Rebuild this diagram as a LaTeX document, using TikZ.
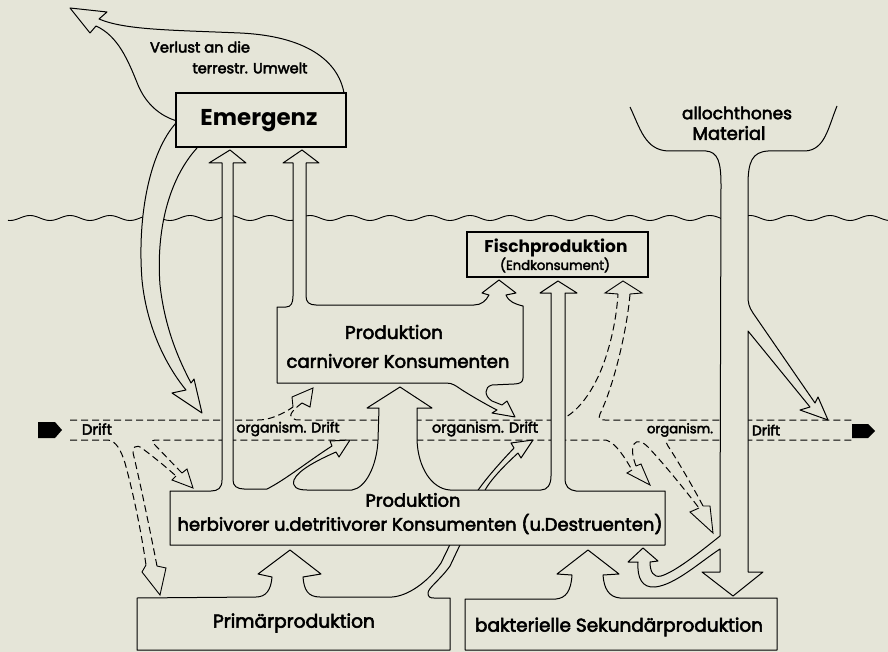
\documentclass[tikz,border=0pt]{standalone}
\usepackage{fontspec}
\setmainfont{Poppins}
\newfontfamily\medf{Poppins}[FakeBold=3]
\usepackage{graphicx}
\definecolor{bg}{RGB}{229,229,216}
\newcommand{\fitw}[2]{\resizebox{#1pt}{!}{#2}}
\begin{document}
\begin{tikzpicture}[x=1pt,y=-1pt,
  ln/.style={line width=1pt, line join=round},
  blk/.style={line width=1pt, line join=round, fill=bg},
  dl/.style={line width=1pt, dash pattern=on 7pt off 4pt},
  hd/.style={line width=0.9pt, line join=miter},
  tx/.style={inner sep=0pt, anchor=center, font=\medf},
  thickbox/.style={draw, line width=2.8pt, fill=bg, inner sep=0pt}]
\fill[bg] (0,0) rectangle (888,652);
\useasboundingbox (0,0) rectangle (888,652);
% water surface
\draw[line width=0.9pt] plot[domain=8:888,samples=400,smooth] (\x,{218+2.5*sin(9*\x)});
% drift lines (top)
\draw[dl] (70,420) -- (258,420) .. controls (270,420) and (283,414) .. (293,407);
\draw[hd] (293,407) -- (292,397) -- (313,388) -- (310,407) -- (302,403);
\draw[dl] (302,403) .. controls (294,409) and (288,415) .. (292,418) .. controls (294,420) and (297,420) .. (302,420) -- (560,420) .. controls (580,412) and (598,385) .. (608,350) .. controls (614,330) and (617,310) .. (618,294);
\draw[hd] (618,294) -- (605,293) -- (623,281) -- (642,293) -- (630,294);
\draw[dl] (630,294) .. controls (627,330) and (614,385) .. (600,414) .. controls (598,419) and (600,420) .. (605,420) -- (852,420);
% drift lines (bottom)
\draw[dl] (70,440) -- (108,440) .. controls (116,441) and (121,450) .. (125,463) .. controls (133,492) and (141,530) .. (146,565);
\draw[hd] (146,565) -- (142,572) -- (160,595) -- (166,568) -- (157,566);
\draw[dl] (157,566) .. controls (150,530) and (140,482) .. (134,457) .. controls (131,447) and (136,443) .. (143,449) .. controls (155,458) and (166,467) .. (176,476);
\draw[hd] (176,476) -- (172,480) -- (193,488) -- (187,469) -- (182,473);
\draw[dl] (182,473) .. controls (172,463) and (160,450) .. (153,443) .. controls (151,441) and (153,440) .. (157,440) -- (606,440) .. controls (616,443) and (625,458) .. (632,470);
\draw[hd] (632,470) -- (627,473) -- (650,485) -- (641,464) -- (636,466);
\draw[dl] (636,466) .. controls (633,458) and (631,449) .. (634,444) .. controls (637,440) and (642,441) .. (648,447) .. controls (665,465) and (685,490) .. (699,508);
\draw[hd] (699,508) -- (690,512) -- (713,533) -- (710,506) -- (703,506);
\draw[dl] (703,506) .. controls (692,485) and (676,458) .. (668,446) .. controls (665,441) and (666,440) .. (670,440) -- (852,440);
% block arrows
\fill (38,422) -- (55,422) -- (62,430) -- (55,438) -- (38,438) -- cycle;
\fill (852,424) -- (868,424) -- (875,431) -- (868,438) -- (852,438) -- cycle;
% curved arrow from Emergenz downwards
\filldraw[blk] (176,123) .. controls (150,152) and (137,215) .. (142,280) .. controls (147,330) and (168,368) .. (186,390) -- (172,393) -- (202,413) -- (194,379) -- (191,383) .. controls (180,362) and (165,330) .. (160,285) .. controls (156,232) and (168,180) .. (197,148) -- cycle;
% loss to terrestrial environment
\filldraw[blk] (344,93) .. controls (338,60) and (305,36) .. (240,33) .. controls (170,30) and (125,30) .. (99,19) -- (107,12) -- (70,8) -- (90,33) -- (96,26) .. controls (118,36) and (128,60) .. (138,85) .. controls (146,104) and (160,116) .. (177,121) -- cycle;
% Primaerproduktion group
\filldraw[blk] (137,598) -- (256,597) .. controls (266,597) and (271,590) .. (272,577) -- (258,574) -- (290,550) -- (321,574) -- (303,577) .. controls (304,590) and (308,597) .. (320,597) -- (392,597) .. controls (408,596) and (428,582) .. (441,563) -- (458,528) -- (468,528) -- (450,566) .. controls (440,580) and (428,588) .. (428,593) .. controls (428,597) and (430,598) .. (434,598) -- (450,598) -- (450,650) -- (137,650) -- cycle;
\filldraw[blk] (468,530) -- (472,500) .. controls (478,488) and (495,468) .. (514,448) -- (511,443) -- (533,440) -- (521,458) -- (518,453) .. controls (505,465) and (490,480) .. (484,492) -- (478,530) -- cycle;
% bakterielle Sekundaerproduktion group
\filldraw[blk] (465,599) -- (556,599) .. controls (566,598) and (571,591) .. (572,575) -- (557,574) -- (588,550) -- (619,574) -- (603,575) .. controls (604,589) and (609,597) .. (620,598) -- (777,598) -- (777,650) -- (465,650) -- cycle;
% allochthones Material
\fill[bg] (630,107) .. controls (640,128) and (645,150) .. (668,151) -- (706,151) .. controls (718,152) and (721,162) .. (721,185) -- (720,536) .. controls (700,552) and (675,572) .. (661,576) .. controls (653,578) and (650,571) .. (650,562) -- (658,561) -- (643,548) -- (628,562) -- (638,562) .. controls (637,578) and (642,588) .. (655,587) .. controls (675,585) and (700,562) .. (720,549) -- (720,572) -- (702,572) -- (733,596) -- (763,572) -- (748,572) -- (748,331) -- (810,407) -- (800,410) -- (828,420) -- (818,397) -- (815,403) -- (753,313) .. controls (749,307) and (748,303) .. (748,296) -- (748,185) .. controls (748,162) and (752,152) .. (768,151) -- (805,151) .. controls (825,150) and (828,128) .. (837,106) -- cycle;
\draw[ln] (630,107) .. controls (640,128) and (645,150) .. (668,151) -- (706,151) .. controls (718,152) and (721,162) .. (721,185) -- (720,536) .. controls (700,552) and (675,572) .. (661,576) .. controls (653,578) and (650,571) .. (650,562) -- (658,561) -- (643,548) -- (628,562) -- (638,562) .. controls (637,578) and (642,588) .. (655,587) .. controls (675,585) and (700,562) .. (720,549) -- (720,572) -- (702,572) -- (733,596) -- (763,572) -- (748,572) -- (748,331) -- (810,407) -- (800,410) -- (828,420) -- (818,397) -- (815,403) -- (753,313) .. controls (749,307) and (748,303) .. (748,296) -- (748,185) .. controls (748,162) and (752,152) .. (768,151) -- (805,151) .. controls (825,150) and (828,128) .. (837,106);
% herbivore/detritivore group
\filldraw[blk] (170,491) -- (211,491) .. controls (218,491) and (222,488) .. (222,480) -- (222,163) -- (209,163) -- (230,150) -- (246,163) -- (233,163) -- (233,480) .. controls (233,486) and (237,489) .. (244,489) -- (267,489) .. controls (285,480) and (310,460) .. (332,446) -- (330,441) -- (350,440) -- (339,457) -- (336,452) .. controls (318,460) and (298,470) .. (294,480) .. controls (292,487) and (297,490) .. (307,490) -- (352,490) .. controls (366,488) and (377,465) .. (378,440) -- (379,408) -- (367,408) -- (400,387) -- (432,408) -- (417,408) -- (417,440) .. controls (418,468) and (432,489) .. (450,490) -- (541,490) .. controls (547,490) and (551,485) .. (551,476) -- (551,293) -- (540,293) -- (558,281) -- (577,293) -- (565,293) -- (565,478) .. controls (565,487) and (569,490) .. (576,491) -- (665,491) -- (665,545) -- (170,545) -- cycle;
% carnivore group
\filldraw[blk] (277,307) -- (286,307) .. controls (291,307) and (293,303) .. (293,296) -- (293,163) -- (283,163) -- (302,150) -- (319,163) -- (306,163) -- (306,296) .. controls (306,302) and (309,305) .. (316,305) -- (474,305) .. controls (481,305) and (486,301) .. (489,295) -- (482,293) -- (499,280) -- (516,293) -- (506,295) .. controls (509,302) and (515,304) .. (523,306) -- (523,378) .. controls (523,382) and (520,384) .. (514,384) -- (492,385) .. controls (484,387) and (484,396) .. (492,401) -- (502,405) -- (507,401) -- (515,417) -- (492,413) -- (497,410) .. controls (485,404) and (470,395) .. (462,390) .. controls (456,386) and (453,383) .. (446,383) -- (277,383) -- cycle;
% thick boxes
\node[thickbox, minimum width=170pt, minimum height=54pt] (emergenz) at (261,120) {};
\node[thickbox, minimum width=181pt, minimum height=45pt] (fisch) at (557.5,254.5) {};
% texts
\node[tx] (t1) at (200,47) {\fitw{100}{Verlust an die}};
\node[tx] (t2) at (250,68) {\fitw{115}{terrestr. Umwelt}};
\node[tx, font=\normalfont] (t3) at (259,121) {\fitw{117}{\bfseries Emergenz}};
\node[tx] (t4) at (737,113) {\fitw{110}{allochthones}};
\node[tx] (t5) at (729,133) {\fitw{73}{Material}};
\node[tx, font=\normalfont] (t6) at (556,248) {\fitw{143}{\bfseries Fischproduktion}};
\node[tx] (t7) at (555,265) {\fitw{110}{(Endkonsument)}};
\node[tx] (t8) at (394,332) {\fitw{98}{Produktion}};
\node[tx] (t9) at (398,361) {\fitw{223}{carnivorer Konsumenten}};
\node[tx] (t10) at (97,429) {\fitw{30}{Drift}};
\node[tx] (t11) at (288,429) {\fitw{103}{organism. Drift}};
\node[tx] (t12) at (485,429) {\fitw{106}{organism. Drift}};
\node[tx] (t13) at (680,430) {\fitw{66}{organism.}};
\node[tx] (t14) at (766,430) {\fitw{28}{Drift}};
\node[tx] (t15) at (413,500) {\fitw{95}{Produktion}};
\node[tx] (t16) at (420,524) {\fitw{485}{herbivorer u.detritivorer Konsumenten (u.Destruenten)}};
\node[tx] (t17) at (294,623) {\fitw{162}{Primärproduktion}};
\node[tx] (t18) at (619,627) {\fitw{288}{bakterielle Sekundärproduktion}};
\end{tikzpicture}
\end{document}
